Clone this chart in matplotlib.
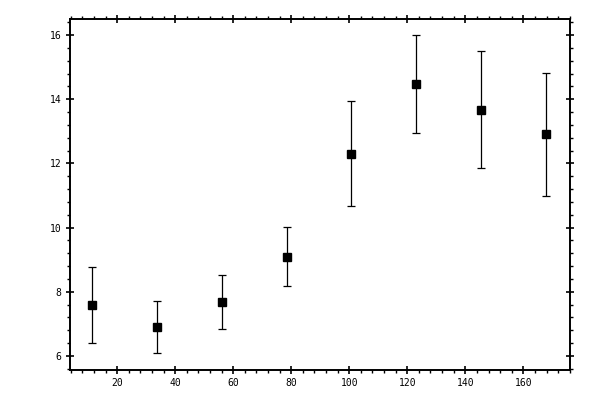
import matplotlib
matplotlib.use("Agg")
import matplotlib.pyplot as plt
from matplotlib.ticker import MultipleLocator

# values
x_vals = [11.4, 33.8, 56.2, 78.6, 100.7, 123.1, 145.5, 167.9]
y_vals = [7.59, 6.89, 7.67, 9.07, 12.28, 14.46, 13.65, 12.91]
y_low = [6.40, 6.08, 6.83, 8.17, 10.66, 12.94, 11.85, 10.98]
y_high = [8.76, 7.70, 8.52, 10.02, 13.93, 15.99, 15.49, 14.81]

err_lo = [y - lo for y, lo in zip(y_vals, y_low)]
err_hi = [hi - y for y, hi in zip(y_vals, y_high)]

fig = plt.figure(figsize=(6, 4), dpi=100)
ax = fig.add_axes([70 / 600, 30 / 400, 500 / 600, 351 / 400])

ax.errorbar(x_vals, y_vals, yerr=[err_lo, err_hi], fmt="s", color="black",
            markersize=5.5, elinewidth=0.9, capsize=3, capthick=0.9)

ax.set_xlim(3.7, 176.1)
ax.set_ylim(5.56, 16.5)
ax.xaxis.set_major_locator(MultipleLocator(20))
ax.xaxis.set_minor_locator(MultipleLocator(4))
ax.yaxis.set_major_locator(MultipleLocator(2))
ax.yaxis.set_minor_locator(MultipleLocator(0.4))

for s in ax.spines.values():
    s.set_linewidth(1.4)

ax.tick_params(which="major", direction="inout", length=6, width=1.2,
               top=True, right=True, labelsize=7, pad=3)
ax.tick_params(which="minor", direction="out", length=2.5, width=1.0,
               top=True, right=True)
for lab in ax.get_xticklabels() + ax.get_yticklabels():
    lab.set_family("DejaVu Sans Mono")

fig.savefig("out.png", dpi=100)
